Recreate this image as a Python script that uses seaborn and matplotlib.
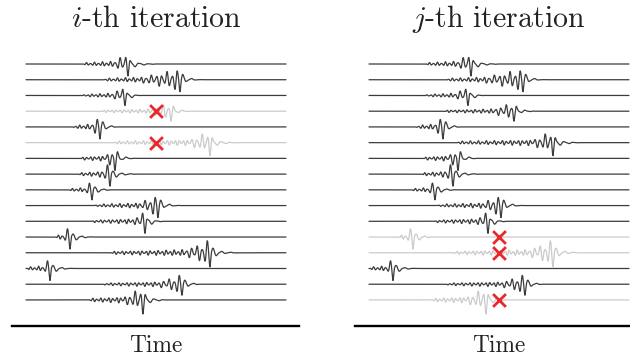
import numpy as np
import pandas as pd
import matplotlib
matplotlib.use("Agg")
import matplotlib.pyplot as plt
import seaborn as sns

# ---- data (time in samples along each trace, 0..260) ----
onset = [57, 77, 56, 74, 46, 87, 54, 52, 42, 69, 66, 29, 84, 0, 77, 62]
burst = [87, 117, 86, 124, 64, 164, 79, 74, 59, 114, 109, 37, 159, 18, 134, 99]
peak = [102, 154, 99, 145, 74, 184, 89, 84, 66, 132, 119, 44, 184, 24, 156, 117]
coda_end = [131, 174, 114, 166, 91, 212, 109, 111, 87, 154, 137, 67, 211, 46, 174, 141]
amplitude = [12, 12, 10, 10, 12, 13, 12, 12, 10, 12, 12, 12, 14, 12, 11, 14]
dropped_i = [3, 5]
dropped_j = [11, 12, 15]
titles = ["$i$-th iteration", "$j$-th iteration"]
xlabel = "Time"
T_END = 260
cross_time = 130

sns.set_theme(style="white")
plt.rcParams["font.family"] = ["cmr10", "DejaVu Serif"]
plt.rcParams["mathtext.fontset"] = "cm"
plt.rcParams["axes.unicode_minus"] = False

DT = 0.25
t = np.arange(0, T_END + DT, DT)


def waveform(k):
    on, bu, pk, en = onset[k], burst[k], peak[k], coda_end[k]
    period = np.where(t < bu, 4.0, np.where(t < pk + 3, 5.2, 9.0))
    phase = np.cumsum(2 * np.pi / period * DT)
    phase -= np.interp(pk, t, phase)
    carrier = -np.cos(phase)
    env = np.zeros_like(t)
    m = (t >= on) & (t < bu)
    env[m] = 0.11 + 0.12 * (t[m] - on) / max(bu - on, 1)
    m = (t >= bu) & (t <= pk)
    env[m] = 0.3 + 0.7 * ((t[m] - bu) / max(pk - bu, 1)) ** 1.3
    m = (t > pk) & (t <= en)
    env[m] = 0.8 * np.exp(-(t[m] - pk) / 4.0) + 0.15 * (en - t[m]) / max(en - pk, 1)
    taper = np.clip((t - on) / 3.0, 0, 1)
    mod = 0.65 + 0.35 * np.sin(2 * np.pi * t / 8.3 + 1.3 * k)
    mod = np.where(np.abs(t - pk) < 1.5, 1.0, mod)
    return env * taper * mod * carrier


SPACING = 15.73
W, H = 630, 358
fig = plt.figure(figsize=(W / 100, H / 100), dpi=100)

panels = [(12, dropped_i), (355, dropped_j)]
trace_left_px = [26, 369]
for p, (ax_left_px, dropped) in enumerate(panels):
    ax_right_px = ax_left_px + 287
    top_px, bottom_px = 50, 325.5
    ax = fig.add_axes([ax_left_px / W, 1 - bottom_px / H,
                       (ax_right_px - ax_left_px) / W, (bottom_px - top_px) / H])
    rows = []
    for k in range(len(onset)):
        y = -k * SPACING + amplitude[k] * waveform(k)
        rows.append(pd.DataFrame({"t": t, "v": y, "trace": k}))
    df = pd.concat(rows)
    pal = {k: ("#cbcbcb" if k in dropped else "#3c3c3c") for k in range(len(onset))}
    sns.lineplot(data=df, x="t", y="v", hue="trace", palette=pal, estimator=None,
                 sort=False, legend=False, lw=0.9, ax=ax)
    # red crosses on dropped traces
    cx = [cross_time] * len(dropped)
    cy = [-k * SPACING for k in dropped]
    sns.scatterplot(x=cx, y=cy, marker="x", s=85, color="#e8282b", linewidth=2.0,
                    zorder=5, ax=ax)
    off = trace_left_px[p] - ax_left_px
    ax.set_xlim(-off, 287 - off)
    ax.set_ylim(-(bottom_px - 64), 64 - top_px)
    ax.set_xticks([])
    ax.set_yticks([])
    ax.set_xlabel("")
    ax.set_ylabel("")
    for s in ["top", "right", "left"]:
        ax.spines[s].set_visible(False)
    ax.spines["bottom"].set_color("black")
    ax.spines["bottom"].set_linewidth(1.7)
    ax.patch.set_alpha(0)
    cx_fig = (trace_left_px[p] + 130) / W
    fig.text(cx_fig, 1 - 27 / H, titles[p], ha="center", va="baseline",
             fontsize=21.5, color="#222222")
    fig.text(cx_fig, 1 - 352 / H, xlabel, ha="center", va="baseline",
             fontsize=16.8, color="#222222")

fig.savefig("out.png", dpi=100)
